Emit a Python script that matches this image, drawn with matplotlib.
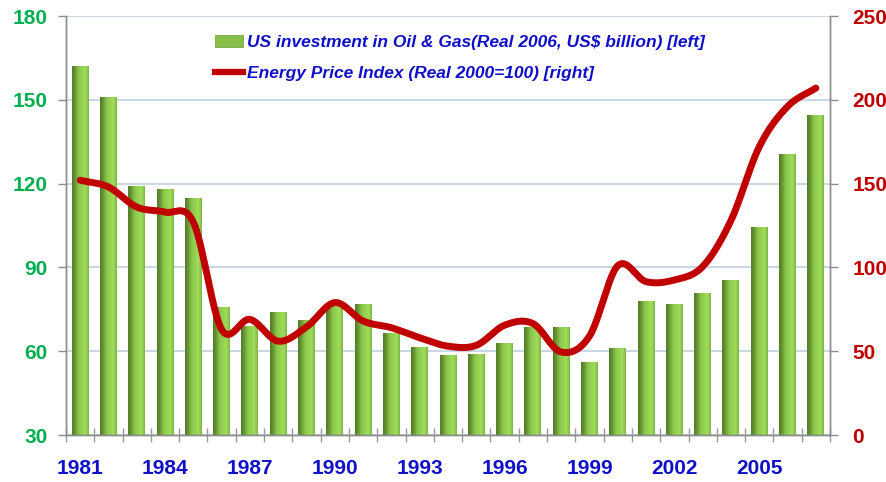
import numpy as np
import matplotlib.pyplot as plt
from matplotlib.colors import LinearSegmentedColormap
from matplotlib.lines import Line2D
from matplotlib.patches import Patch

# data
years = list(range(1981, 2008))
investment = [162, 151, 119, 118, 115, 76, 69, 74, 71, 77, 77, 66.5, 61.5, 58.5,
              59, 63, 68.5, 68.5, 56, 61, 78, 77, 81, 85.5, 104.5, 130.5, 144.5]
price_index = [152, 148, 136, 133, 127, 63, 69, 56, 64.5, 79, 68, 64, 58, 53,
               53.5, 65.5, 66.5, 49.5, 59, 101, 91.5, 92.5, 100.5, 128, 172, 196, 207]
left_ticks = [30, 60, 90, 120, 150, 180]
right_ticks = [0, 50, 100, 150, 200, 250]
label_years = years[::3]

inv_label = 'US investment in Oil & Gas(Real 2006, US$ billion) [left]'
idx_label = 'Energy Price Index (Real 2000=100) [right]'

GREEN_TXT = '#00B050'
RED = '#C00000'
BLUE = '#1010C8'
SPINE = '#8C8C8C'
GRID = '#C0D0E0'


def catmull_rom(x, y, n=24):
    # smooth curve through the points, like the spreadsheet "smoothed line"
    x = np.asarray(x, float)
    y = np.asarray(y, float)
    px = np.concatenate([[2 * x[0] - x[1]], x, [2 * x[-1] - x[-2]]])
    py = np.concatenate([[2 * y[0] - y[1]], y, [2 * y[-1] - y[-2]]])
    xs, ys = [], []
    t = np.linspace(0, 1, n, endpoint=False)
    for i in range(1, len(px) - 2):
        for p, out in ((px, xs), (py, ys)):
            p0, p1, p2, p3 = p[i - 1], p[i], p[i + 1], p[i + 2]
            out.extend(0.5 * ((2 * p1) + (-p0 + p2) * t +
                              (2 * p0 - 5 * p1 + 4 * p2 - p3) * t ** 2 +
                              (-p0 + 3 * p1 - 3 * p2 + p3) * t ** 3))
    xs.append(x[-1])
    ys.append(y[-1])
    return np.array(xs), np.array(ys)


def main():
    plt.rcParams['font.family'] = 'Liberation Sans'
    plt.rcParams['font.weight'] = 'bold'

    fig = plt.figure(figsize=(8.86, 4.82), dpi=100)
    ax = fig.add_axes([0.0745, 0.0975, 0.8623, 0.8693])
    ax2 = ax.twinx()

    x = np.arange(len(years))
    base = left_ticks[0]

    # bars with a horizontal shading, like the 3D-ish excel bars
    bars = ax.bar(x, np.array(investment) - base, width=0.6, bottom=base,
                  color='none', edgecolor='none', zorder=2)
    cmap = LinearSegmentedColormap.from_list('bar', ['#527A28', '#6A9A36', '#8CC64C', '#95D352', '#A0DD5C', '#7FB442'])
    grad = np.linspace(0, 1, 64).reshape(1, -1)
    for b in bars:
        bx, by = b.get_x(), b.get_y()
        bw, bh = b.get_width(), b.get_height()
        im = ax.imshow(grad, cmap=cmap, aspect='auto', extent=(bx, bx + bw, by, by + bh),
                       zorder=2, interpolation='bilinear')
        im.set_clip_path(b)

    ax.set_xlim(-0.5, len(years) - 0.5)
    ax.set_ylim(30, 180)
    ax.set_yticks(left_ticks)
    ax.yaxis.grid(True, color=GRID, linewidth=1.2, zorder=0)
    ax.set_axisbelow(True)
    ax.tick_params(axis='y', colors=SPINE, labelcolor=GREEN_TXT, labelsize=15, length=6, width=1, pad=7)

    ax.set_xticks([years.index(y) for y in label_years])
    ax.set_xticklabels([str(y) for y in label_years])
    ax.set_xticks(np.arange(-0.5, len(years)), minor=True)
    ax.tick_params(axis='x', which='major', length=0, labelcolor=BLUE, labelsize=15, pad=17)
    ax.tick_params(axis='x', which='minor', direction='inout', length=10, width=1, colors='#999999')

    # smoothed price index line on the right axis
    sx, sy = catmull_rom(x, price_index)
    ax2.plot(sx, sy, color=RED, linewidth=5, solid_capstyle='round', zorder=3)
    ax2.set_ylim(0, 250)
    ax2.set_yticks(right_ticks)
    ax2.tick_params(axis='y', colors=SPINE, labelcolor=RED, labelsize=15, length=6, width=1, pad=10)

    for a in (ax, ax2):
        a.spines['top'].set_visible(False)
        for s in ('left', 'right', 'bottom'):
            a.spines[s].set_color(SPINE)
            a.spines[s].set_linewidth(1)

    handles = [Patch(facecolor='#86C04A', edgecolor='#6A9A38', linewidth=0.5),
               Line2D([0], [0], color=RED, linewidth=4.5)]
    leg = ax2.legend(handles, [inv_label, idx_label], loc='upper left',
                     bbox_to_anchor=(0.175, 0.993), frameon=False,
                     prop={'family': 'Liberation Sans', 'weight': 'bold', 'style': 'italic', 'size': 12.5},
                     handlelength=1.6, handletextpad=0.25, labelspacing=0.95)
    for t in leg.get_texts():
        t.set_color(BLUE)

    fig.savefig('out.png', dpi=100)


if __name__ == '__main__':
    main()
